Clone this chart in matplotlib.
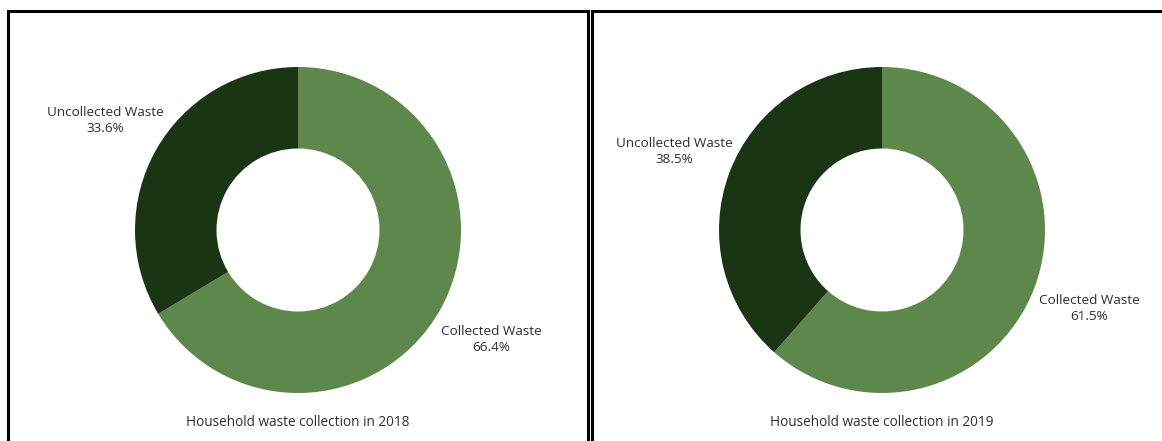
import matplotlib
matplotlib.use("Agg")
import matplotlib.pyplot as plt
from matplotlib.patches import Rectangle

years = ["2018", "2019"]
categories = ["Collected Waste", "Uncollected Waste"]
collected = [66.4, 61.5]
uncollected = [33.6, 38.5]
colors = ["#5e874c", "#1a3513"]

plt.rcParams["font.family"] = ["Open Sans", "DejaVu Sans"]

W, H = 1162, 441
fig = plt.figure(figsize=(W / 100, H / 100), dpi=100)

def px_axes(cx, cy, r):
    # axes box in pixel units (origin top-left) around a donut of radius r
    return fig.add_axes([(cx - r) / W, 1 - (cy + r) / H, 2 * r / W, 2 * r / H])

# panel frames
for x0, x1 in [(8, 588), (592, 1175)]:
    fig.add_artist(Rectangle((x0 / W, -0.1), (x1 - x0) / W, 1.1 - 11 / H,
                             transform=fig.transFigure, fill=False,
                             edgecolor="black", linewidth=2.2))

centers = [298, 882]
for i, year in enumerate(years):
    ax = px_axes(centers[i], 230, 163)
    vals = [collected[i], uncollected[i]]
    labels = [f"{c}\n{v}%" for c, v in zip(categories, vals)]
    ax.pie(vals, colors=colors, startangle=90, counterclock=False,
           wedgeprops=dict(width=0.5, linewidth=0),
           labels=labels, labeldistance=1.36,
           textprops=dict(ha="center", va="center", ma="center",
                          fontsize=9.7, color="#2e2e2e", linespacing=1.3))
    ax.set_xlim(-1, 1)
    ax.set_ylim(-1, 1)
    ax.set_aspect("equal")
    ax.text(0, -1.18, f"Household waste collection in {year}", ha="center",
            va="center", fontsize=9.8, color="#2e2e2e", clip_on=False)

fig.savefig("out.png", dpi=100)
